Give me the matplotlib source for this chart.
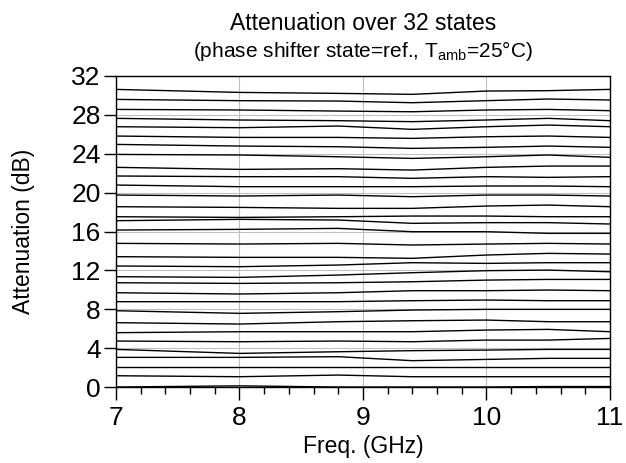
import numpy as np
import matplotlib
matplotlib.use('Agg')
import matplotlib.pyplot as plt
from matplotlib.ticker import MultipleLocator

plt.rcParams['font.family'] = ['Liberation Sans', 'DejaVu Sans']

freqs = [7.0, 8.0, 8.8, 9.4, 10.0, 10.5, 11.0]

# attenuation (dB) of each of the 32 states, highest first
att_states = [
    [30.62, 30.31, 30.21, 30.11, 30.45, 30.49, 30.62],
    [29.59, 29.46, 29.42, 29.25, 29.46, 29.63, 29.53],
    [28.56, 28.50, 28.39, 28.32, 28.50, 28.56, 28.43],
    [27.64, 27.47, 27.40, 27.30, 27.47, 27.64, 27.40],
    [26.78, 26.68, 26.85, 26.51, 26.78, 26.95, 26.78],
    [25.82, 25.68, 25.68, 25.58, 25.75, 25.82, 25.68],
    [24.96, 24.79, 24.72, 24.55, 24.66, 24.79, 24.66],
    [23.93, 23.87, 23.69, 23.52, 23.69, 23.87, 23.63],
    [22.60, 22.39, 22.46, 22.32, 22.60, 22.73, 22.73],
    [21.71, 21.64, 21.64, 21.47, 21.64, 21.57, 21.64],
    [20.78, 20.61, 20.61, 20.61, 20.68, 20.68, 20.61],
    [19.75, 19.65, 19.75, 19.58, 19.75, 19.75, 19.65],
    [18.55, 18.48, 18.38, 18.38, 18.62, 18.72, 18.55],
    [17.52, 17.45, 17.52, 17.59, 17.59, 17.52, 17.52],
    [17.11, 17.25, 17.18, 16.84, 16.91, 16.91, 16.77],
    [16.15, 16.22, 16.32, 15.98, 15.98, 15.81, 15.81],
    [14.78, 14.71, 14.78, 14.61, 14.71, 14.78, 14.71],
    [13.41, 13.34, 13.34, 13.24, 13.58, 13.75, 13.68],
    [12.45, 12.38, 12.55, 12.79, 12.72, 12.79, 12.79],
    [11.35, 11.28, 11.52, 11.76, 11.97, 12.03, 11.86],
    [10.73, 10.66, 10.73, 10.83, 11.00, 11.07, 11.07],
    [9.70, 9.57, 9.70, 9.91, 9.91, 9.98, 9.91],
    [8.78, 8.78, 8.78, 8.88, 8.95, 8.88, 8.88],
    [7.85, 7.58, 7.75, 7.92, 7.99, 7.99, 7.99],
    [6.62, 6.48, 6.72, 6.82, 6.89, 6.72, 6.72],
    [5.59, 5.69, 5.69, 5.69, 5.86, 5.93, 5.69],
    [4.73, 4.66, 4.73, 4.66, 4.83, 4.83, 5.00],
    [3.87, 3.46, 3.63, 3.74, 3.80, 3.87, 3.87],
    [3.05, 3.05, 3.12, 2.71, 2.84, 2.95, 2.95],
    [2.09, 2.09, 2.09, 2.09, 2.09, 2.09, 2.09],
    [1.16, 1.06, 1.23, 1.06, 1.06, 1.06, 1.06],
    [0.00, 0.12, 0.00, 0.00, 0.00, 0.05, 0.05],
]

xticks = [7, 8, 9, 10, 11]
yticks = [0, 4, 8, 12, 16, 20, 24, 28, 32]

fig = plt.figure(figsize=(6.26, 4.63), dpi=100)
ax = fig.add_axes([0.1853, 0.1641, 0.7891, 0.6718])

for row in att_states:
    ax.plot(freqs, row, color='black', lw=1.0, zorder=3)

ax.set_xlim(7, 11)
ax.set_ylim(0, 32)
ax.set_xticks(xticks)
ax.set_yticks(yticks)
ax.xaxis.set_minor_locator(MultipleLocator(0.2))
ax.grid(True, which='major', color='#c0c0c0', lw=0.8, zorder=1)
ax.tick_params(axis='both', which='major', direction='out', length=9,
               width=1, labelsize=19, color='black')
ax.tick_params(axis='y', pad=2)
ax.tick_params(axis='x', pad=5)
ax.tick_params(axis='x', which='minor', direction='out', length=5, width=1)
for s in ax.spines.values():
    s.set_linewidth(1.0)

ax.set_xlabel('Freq. (GHz)', fontsize=16.5, labelpad=3)
ax.set_ylabel('Attenuation (dB)', fontsize=16.5, labelpad=26)

fig.text(0.58, 1 - 23 / 463, 'Attenuation over 32 states',
         ha='center', va='center', fontsize=16.5)
fig.text(0.58, 1 - 51 / 463,
         r'(phase shifter state=ref., T$_{\mathregular{amb}}$=25°C)',
         ha='center', va='center', fontsize=15)

fig.savefig('out.png', dpi=100)
